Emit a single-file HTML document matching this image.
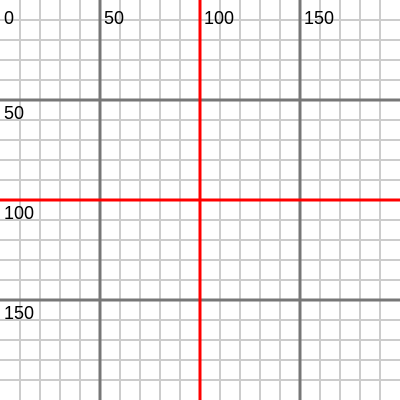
<!DOCTYPE html>
<html><head><meta charset="utf-8"><style>
html,body{margin:0;padding:0;background:#fff;}
svg{display:block;}
text{font-family:"Liberation Sans",Arial,sans-serif;font-size:18px;fill:#000;}
</style></head><body>
<svg id="chart" width="400" height="400"></svg>
<script>
const minorTicks = [0,10,20,30,40,50,60,70,80,90,100,110,120,130,140,150,160,170,180,190];
const majorTicks = [50,150];
const centerTicks = [100];
const labelTicks = [0,50,100,150];
const scale = v => v * 2;
const svg = document.getElementById('chart');
const NS = 'http://www.w3.org/2000/svg';
function line(x1,y1,x2,y2,stroke,w,name){
  const l = document.createElementNS(NS,'line');
  l.setAttribute('x1',x1);l.setAttribute('y1',y1);l.setAttribute('x2',x2);l.setAttribute('y2',y2);
  l.setAttribute('stroke',stroke);l.setAttribute('stroke-width',w);
  
  
  svg.appendChild(l);
}
minorTicks.forEach(t=>{ if(t===0) return; const p=scale(t);
  line(p,0,p,400,'#cccccc',2,'minor-gridline-x');
  line(0,p,400,p,'#cccccc',2,'minor-gridline-y');
});
majorTicks.forEach(t=>{ const p=scale(t);
  line(p,0,p,400,'#777777',3,'major-gridline-x');
  line(0,p,400,p,'#777777',3,'major-gridline-y');
});
centerTicks.forEach(t=>{ const p=scale(t);
  line(p,0,p,400,'#ff0000',3,'center-line-x');
  line(0,p,400,p,'#ff0000',3,'center-line-y');
});
labelTicks.forEach(t=>{ const p=scale(t);
  const a=document.createElementNS(NS,'text');
  a.setAttribute('x',p+4);a.setAttribute('y',24);a.textContent=t;
  
  
  svg.appendChild(a);
  if(t!==0){
    const b=document.createElementNS(NS,'text');
    b.setAttribute('x',4);b.setAttribute('y',p+19);b.textContent=t;
    
    
    svg.appendChild(b);
  }
});
</script>
</body></html>
